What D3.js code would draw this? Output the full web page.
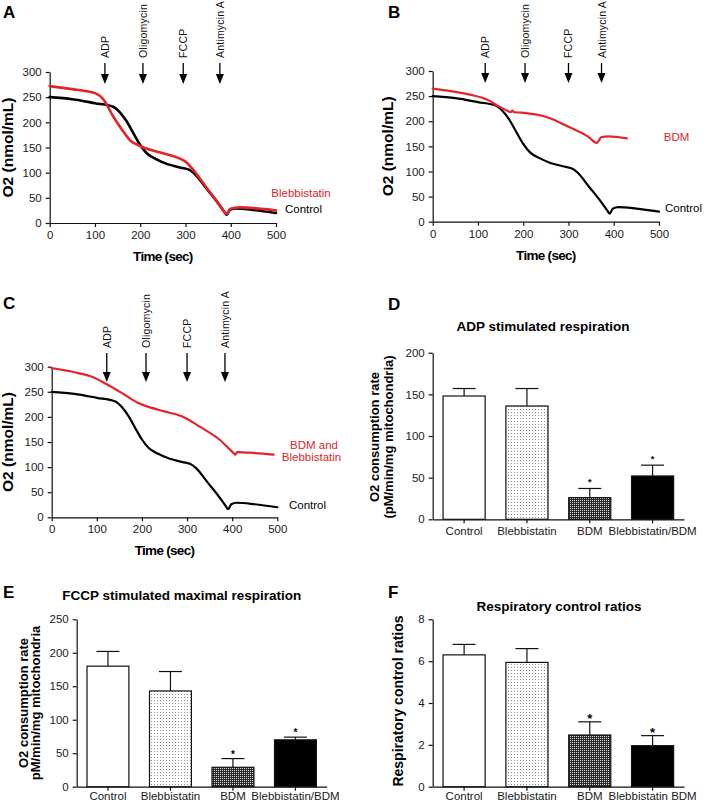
<!DOCTYPE html>
<html><head><meta charset="utf-8">
<script src="https://cdn.jsdelivr.net/npm/d3@7"></script>
<style>body{margin:0;background:#fff} svg{font-family:"Liberation Sans",Arial,sans-serif}</style>
</head><body><svg id="c" width="709" height="804"></svg>
<script>
// ---- Data: oxygen traces (time in sec, O2 in nmol/mL) ----
const controlTime = [0, 50, 100, 140, 155, 170, 185, 200, 215, 235, 260, 290, 310, 320, 345, 370, 386, 391, 398, 410, 450, 500];
const controlO2   = [250, 246, 238, 231, 220, 202, 178, 155, 138, 127, 117, 110, 105, 98, 70, 42, 22, 16, 26, 29, 26, 20];
const blebTime = [0, 50, 100, 120, 140, 160, 178, 195, 210, 245, 290, 300, 315, 345, 375, 388, 392, 398, 420, 500];
const blebO2   = [272, 266, 258, 244, 212, 185, 164, 155, 149, 140, 127, 122, 108, 72, 36, 20, 18, 28, 31, 25];
const bdmTime = [0, 40, 82, 123, 145, 167, 172, 176, 180, 197, 256, 300, 344, 362, 366, 372, 388, 429];
const bdmO2   = [265, 260, 253, 242, 230, 220, 218, 221, 218, 217, 207, 189, 169, 157, 160, 168, 170, 166];
const bothTime = [0, 50, 92, 122, 160, 193, 211, 250, 292, 329, 373, 403, 407, 411, 450, 492];
const bothO2   = [297, 289, 279, 265, 245, 227, 221, 211, 200, 180, 154, 128, 125, 130, 128, 125];
const timeTicks = [0, 100, 200, 300, 400, 500];
const o2Ticks = [0, 50, 100, 150, 200, 250, 300];
const injections = ["ADP", "Oligomycin", "FCCP", "Antimycin A"];
const injTimeA = [122, 206, 295, 376];
const injTimeB = [116, 204, 300, 373];
const injTimeC = [122, 209, 300, 384];
// ---- Data: bar charts ----
const groups  = ["Control", "Blebbistatin", "BDM", "Blebbistatin/BDM"];
const groupsF = ["Control", "Blebbistatin", "BDM", "Blebbistatin BDM"];
const adpMean = [148, 136, 26, 52];
const adpSem  = [9, 21, 11, 13];
const adpSig  = [false, false, true, true];
const fccpMean = [180, 143, 29, 70];
const fccpSem  = [22, 29, 13, 4];
const fccpSig  = [false, false, true, true];
const rcrMean = [6.3, 5.94, 2.47, 1.96];
const rcrSem  = [0.5, 0.66, 0.63, 0.48];
const rcrSig  = [false, false, true, true];
const adpTicks = [0, 50, 100, 150, 200];
const fccpTicks = [0, 50, 100, 150, 200, 250];
const rcrTicks = [0, 2, 4, 6, 8];

const RED = "#e3242b";
const svg = d3.select("#c");
const defs = svg.append("defs");
const pd = defs.append("pattern").attr("id", "dots").attr("patternUnits", "userSpaceOnUse").attr("width", 3).attr("height", 3);
pd.append("rect").attr("width", 3).attr("height", 3).attr("fill", "#fff");
pd.append("rect").attr("x", 1).attr("y", 1).attr("width", 1).attr("height", 1).attr("fill", "#8c8c8c");
const pc = defs.append("pattern").attr("id", "check").attr("patternUnits", "userSpaceOnUse").attr("width", 2).attr("height", 2);
pc.append("rect").attr("width", 2).attr("height", 2).attr("fill", "#2a2a2a");
pc.append("rect").attr("width", 1).attr("height", 1).attr("fill", "#dcdcdc");
const fills = ["#fff", "url(#dots)", "url(#check)", "#000"];

function styleAxis(g, fs) {
  g.select(".domain").attr("stroke", "#111").attr("stroke-width", 1.2);
  g.selectAll(".tick line").attr("stroke", "#111").attr("stroke-width", 1.2);
  g.selectAll(".tick text").attr("font-size", fs).attr("fill", "#1a1a1a").attr("font-family", "Liberation Sans, Arial, sans-serif");
}

function letter(t, x, y) {
  svg.append("text").attr("x", x).attr("y", y).attr("font-size", 17).attr("font-weight", "bold").text(t);
}

function linePanel(o) {
  const x = d3.scaleLinear().domain([0, 500]).range([o.x0, o.x1]);
  const y = d3.scaleLinear().domain([0, 300]).range([o.yb, o.yt]);
  const gx = svg.append("g").attr("transform", `translate(0,${o.yb})`)
    .call(d3.axisBottom(x).tickValues(timeTicks).tickSize(4).tickSizeOuter(0).tickPadding(4));
  styleAxis(gx, 11.5);
  const gy = svg.append("g").attr("transform", `translate(${o.x0},0)`)
    .call(d3.axisLeft(y).tickValues(o2Ticks).tickSize(4).tickSizeOuter(0).tickPadding(4));
  styleAxis(gy, 11.5);
  svg.append("text").attr("x", (o.x0 + o.x1) / 2).attr("y", o.yb + 38).attr("text-anchor", "middle")
    .attr("font-size", 13.5).attr("font-weight", "bold").attr("letter-spacing", -0.7).text("Time (sec)");
  svg.append("text").attr("transform", `translate(${o.ylx},${(o.yb + o.yt) / 2}) rotate(-90)`)
    .attr("text-anchor", "middle").attr("font-size", 15.5).attr("font-weight", "bold").text("O2 (nmol/mL)");
  const line = d3.line().x(d => x(d[0])).y(d => y(d[1])).curve(d3.curveMonotoneX);
  o.series.forEach(s => {
    svg.append("path").datum(d3.zip(s.t, s.v)).attr("d", line).attr("fill", "none")
      .attr("stroke", s.c).attr("stroke-width", o.lw).attr("stroke-linejoin", "round").attr("stroke-linecap", "round");
  });
  // injection arrows
  o.inj.forEach((t, i) => {
    const ax = x(t);
    svg.append("line").attr("x1", ax).attr("x2", ax).attr("y1", o.aTop).attr("y2", o.aTip - 8).attr("stroke", "#000").attr("stroke-width", 1.3);
    svg.append("path").attr("d", `M${ax - 4},${o.aTip - 10} L${ax + 4},${o.aTip - 10} L${ax},${o.aTip} Z`).attr("fill", "#000");
    svg.append("text").attr("transform", `translate(${ax + 4},${o.aTop - 5}) rotate(-90)`)
      .attr("font-size", 10.5).attr("fill", "#111").attr("letter-spacing", 0.2).text(injections[i]);
  });
  o.labels.forEach(l => {
    svg.append("text").attr("x", l.x).attr("y", l.y).attr("text-anchor", "middle").attr("font-size", 11.5)
      .attr("fill", l.c).text(l.t);
  });
}

letter("A", 3, 18);
linePanel({ x0: 49.7, x1: 276, yt: 72, yb: 223, ylx: 13, lw: 2.6, aTop: 63, aTip: 84,
  series: [{ t: controlTime, v: controlO2, c: "#000" }, { t: blebTime, v: blebO2, c: RED }],
  inj: injTimeA,
  labels: [{ t: "Blebbistatin", x: 301, y: 197, c: RED }, { t: "Control", x: 303.5, y: 213, c: "#000" }] });

letter("B", 388, 18);
linePanel({ x0: 432.7, x1: 659, yt: 71, yb: 221.7, ylx: 393, lw: 2.2, aTop: 63, aTip: 83,
  series: [{ t: controlTime, v: controlO2, c: "#000" }, { t: bdmTime, v: bdmO2, c: RED }],
  inj: injTimeB,
  labels: [{ t: "BDM", x: 676.5, y: 141, c: RED }, { t: "Control", x: 683.5, y: 212, c: "#000" }] });

letter("C", 3, 309);
linePanel({ x0: 51.7, x1: 277.3, yt: 366.7, yb: 517.3, ylx: 13, lw: 2.2, aTop: 353, aTip: 382,
  series: [{ t: controlTime, v: controlO2, c: "#000" }, { t: bothTime, v: bothO2, c: RED }],
  inj: injTimeC,
  labels: [{ t: "BDM and", x: 314, y: 449, c: RED }, { t: "Blebbistatin", x: 311.5, y: 461, c: RED },
           { t: "Control", x: 307.5, y: 509, c: "#000" }] });

function barPanel(o) {
  const x = d3.scaleBand().domain(o.cats).range([o.x0, o.x1]).paddingInner(0.33).paddingOuter(0.165);
  const y = d3.scaleLinear().domain([0, o.max]).range([o.yb, o.yt]);
  const gx = svg.append("g").attr("transform", `translate(0,${o.yb})`)
    .call(d3.axisBottom(x).tickSize(4).tickSizeOuter(0).tickPadding(o.pad));
  styleAxis(gx, 11.5);
  const gy = svg.append("g").attr("transform", `translate(${o.x0},0)`)
    .call(d3.axisLeft(y).tickValues(o.ticks).tickSize(4).tickSizeOuter(0).tickPadding(4));
  styleAxis(gy, 11.5);
  const bw = x.bandwidth();
  o.cats.forEach((c, i) => {
    const cx = x(c) + bw / 2;
    const top = y(o.mean[i] + o.sem[i]);
    svg.append("line").attr("x1", cx).attr("x2", cx).attr("y1", y(o.mean[i])).attr("y2", top).attr("stroke", "#111").attr("stroke-width", 1.2);
    svg.append("line").attr("x1", cx - 11.5).attr("x2", cx + 11.5).attr("y1", top).attr("y2", top).attr("stroke", "#111").attr("stroke-width", 1.2);
    svg.append("rect").attr("x", x(c)).attr("y", y(o.mean[i])).attr("width", bw).attr("height", o.yb - y(o.mean[i]))
      .attr("fill", fills[i]).attr("stroke", "#111").attr("stroke-width", 1.2);
    if (o.sig[i]) svg.append("text").attr("x", cx).attr("y", top - o.astOff).attr("text-anchor", "middle")
      .attr("font-size", o.astSize).attr("font-weight", "bold").text("*");
  });
  svg.append("text").attr("x", o.tx).attr("y", o.ty).attr("text-anchor", "middle").attr("font-size", 13.5)
    .attr("font-weight", "bold").text(o.title);
  o.ylab.forEach(l => {
    svg.append("text").attr("transform", `translate(${l.x},${o.ylc}) rotate(-90)`).attr("text-anchor", "middle")
      .attr("font-size", l.fs).attr("font-weight", "bold").text(l.t);
  });
}

letter("D", 388, 310);
barPanel({ cats: groups, x0: 432.7, x1: 684, yt: 352.7, yb: 519.3, max: 200, ticks: adpTicks, pad: 4,
  mean: adpMean, sem: adpSem, sig: adpSig, astSize: 9, astOff: 3,
  title: "ADP stimulated respiration", tx: 543, ty: 331,
  ylab: [{ t: "O2 consumption rate", x: 379, fs: 13 }, { t: "(pM/min/mg mitochondria)", x: 393, fs: 13 }], ylc: 437 });

letter("E", 3, 598);
barPanel({ cats: groups, x0: 76.7, x1: 326.7, yt: 619.3, yb: 786.7, max: 250, ticks: fccpTicks, pad: 1,
  mean: fccpMean, sem: fccpSem, sig: fccpSig, astSize: 10, astOff: 1,
  title: "FCCP stimulated maximal respiration", tx: 181.7, ty: 600,
  ylab: [{ t: "O2 consumption rate", x: 28, fs: 13 }, { t: "pM/min/mg mitochondria", x: 40, fs: 13 }], ylc: 703 });

letter("F", 388, 598);
barPanel({ cats: groupsF, x0: 432.7, x1: 684, yt: 619.3, yb: 786.7, max: 8, ticks: rcrTicks, pad: 1,
  mean: rcrMean, sem: rcrSem, sig: rcrSig, astSize: 13, astOff: -1,
  title: "Respiratory control ratios", tx: 559, ty: 611,
  ylab: [{ t: "Respiratory control ratios", x: 403, fs: 14 }], ylc: 701 });
</script></body></html>
